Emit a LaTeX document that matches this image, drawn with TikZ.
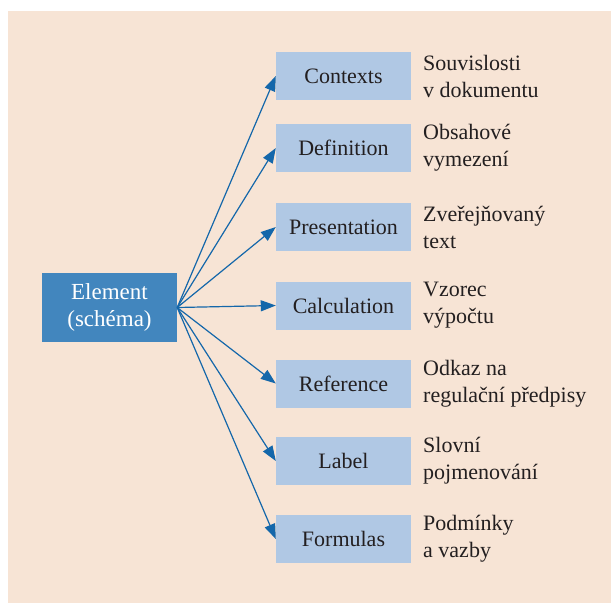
\documentclass[tikz,border=0pt]{standalone}
\usepackage{fontspec}
\setmainfont{Liberation Serif}
\usetikzlibrary{arrows.meta, positioning}
\definecolor{mybg}{RGB}{247,228,213}
\definecolor{myblue}{RGB}{66,134,190}
\definecolor{mylight}{RGB}{176,200,228}
\definecolor{myarrow}{RGB}{20,103,170}
\definecolor{mytext}{RGB}{35,31,32}
\tikzset{
  mainbox/.style={rectangle, fill=myblue, text=white, align=center,
    minimum width=135pt, minimum height=69pt, inner sep=0pt,
    font=\fontsize{23}{27}\selectfont},
  itembox/.style={rectangle, fill=mylight, text=mytext, align=center,
    minimum width=135pt, minimum height=48pt, inner sep=0pt,
    font=\fontsize{22}{26}\selectfont},
  desc/.style={anchor=west, align=left, inner sep=0pt, text=mytext,
    font=\fontsize{22}{27}\selectfont},
  link/.style={-{Triangle[length=15pt, width=11pt]}, line width=1.2pt, color=myarrow}
}
\begin{document}
\begin{tikzpicture}[x=1pt, y=-1pt]
  % Page and background
  \useasboundingbox (0,0) rectangle (611,603);
  \fill[mybg] (8,11) rectangle (611,603);

  % Source node
  \node[mainbox] (elem) at (109.5, 307.5) {Element\\(schéma)};

  % Target boxes, top to bottom
  \node[itembox] (ctx)  at (343.5, 76)  {Contexts};
  \node[itembox] (defn) at (343.5, 148) {Definition};
  \node[itembox] (pres) at (343.5, 227) {Presentation};
  \node[itembox] (calc) at (343.5, 305.5) {Calculation};
  \node[itembox] (refr) at (343.5, 383.5) {Reference};
  \node[itembox] (labl) at (343.5, 461) {Label};
  \node[itembox] (form) at (343.5, 539) {Formulas};

  % Descriptions to the right of each box
  \node[desc] (ctxdesc)  at (423, 76)  {Souvislosti\\v dokumentu};
  \node[desc] (defndesc) at (423, 148) {Obsahové\\vymezení};
  \node[desc] (presdesc) at (423, 227) {Zveřejňovaný\\text};
  \node[desc] (calcdesc) at (423, 305.5) {Vzorec\\výpočtu};
  \node[desc] (refrdesc) at (423, 383.5) {Odkaz na\\regulační předpisy};
  \node[desc] (labldesc) at (423, 461) {Slovní\\pojmenování};
  \node[desc] (formdesc) at (423, 539) {Podmínky\\a vazby};

  % Fan of arrows from the element
  \draw[link] (elem.east) -- (ctx.west);
  \draw[link] (elem.east) -- (defn.west);
  \draw[link] (elem.east) -- (pres.west);
  \draw[link] (elem.east) -- (calc.west);
  \draw[link] (elem.east) -- (refr.west);
  \draw[link] (elem.east) -- (labl.west);
  \draw[link] (elem.east) -- (form.west);
\end{tikzpicture}
\end{document}
